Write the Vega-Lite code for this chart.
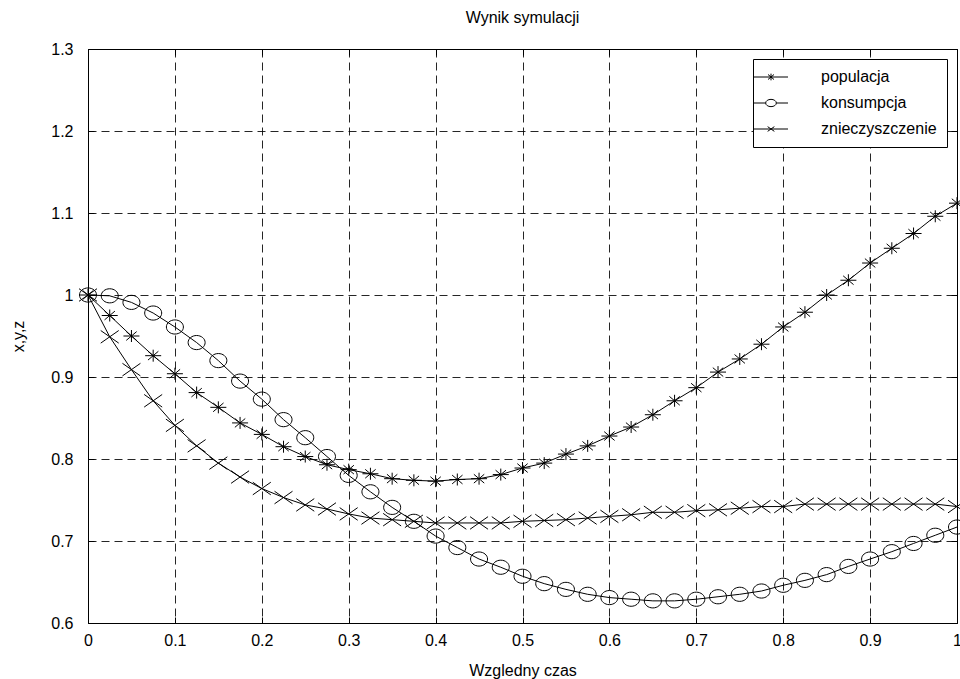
{
  "$schema": "https://vega.github.io/schema/vega-lite/v6.json",
  "width": 869,
  "height": 574,
  "autosize": "none",
  "padding": {"left": 88, "top": 49, "right": 3, "bottom": 56},
  "background": "white",
  "title": {"text": "Wynik symulacji", "font": "Liberation Sans", "fontSize": 16, "fontWeight": "normal", "color": "black", "frame": "group", "offset": 15, "anchor": "middle"},
  "config": {
    "view": {"stroke": "black", "strokeWidth": 1},
    "axis": {"domain": false, "labelFont": "Liberation Sans", "labelFontSize": 16, "labelColor": "black", "titleFont": "Liberation Sans", "titleFontSize": 16, "titleFontWeight": "normal", "titleColor": "black", "tickColor": "black", "tickSize": -6, "gridColor": "black", "gridDash": [8, 5], "gridOpacity": 0.85}
  },
  "data": {"values": [
    {"t": 0, "populacja": 1.0, "konsumpcja": 1.0, "znieczyszczenie": 1.0},
    {"t": 0.025, "populacja": 0.975, "konsumpcja": 0.999, "znieczyszczenie": 0.949},
    {"t": 0.05, "populacja": 0.950, "konsumpcja": 0.991, "znieczyszczenie": 0.909},
    {"t": 0.075, "populacja": 0.926, "konsumpcja": 0.978, "znieczyszczenie": 0.871},
    {"t": 0.1, "populacja": 0.904, "konsumpcja": 0.961, "znieczyszczenie": 0.841},
    {"t": 0.125, "populacja": 0.881, "konsumpcja": 0.942, "znieczyszczenie": 0.816},
    {"t": 0.15, "populacja": 0.863, "konsumpcja": 0.920, "znieczyszczenie": 0.795},
    {"t": 0.175, "populacja": 0.844, "konsumpcja": 0.895, "znieczyszczenie": 0.778},
    {"t": 0.2, "populacja": 0.830, "konsumpcja": 0.873, "znieczyszczenie": 0.764},
    {"t": 0.225, "populacja": 0.815, "konsumpcja": 0.848, "znieczyszczenie": 0.753},
    {"t": 0.25, "populacja": 0.803, "konsumpcja": 0.826, "znieczyszczenie": 0.744},
    {"t": 0.275, "populacja": 0.793, "konsumpcja": 0.803, "znieczyszczenie": 0.739},
    {"t": 0.3, "populacja": 0.787, "konsumpcja": 0.780, "znieczyszczenie": 0.733},
    {"t": 0.325, "populacja": 0.782, "konsumpcja": 0.760, "znieczyszczenie": 0.728},
    {"t": 0.35, "populacja": 0.776, "konsumpcja": 0.741, "znieczyszczenie": 0.726},
    {"t": 0.375, "populacja": 0.774, "konsumpcja": 0.724, "znieczyszczenie": 0.724},
    {"t": 0.4, "populacja": 0.773, "konsumpcja": 0.706, "znieczyszczenie": 0.722},
    {"t": 0.425, "populacja": 0.775, "konsumpcja": 0.692, "znieczyszczenie": 0.722},
    {"t": 0.45, "populacja": 0.776, "konsumpcja": 0.678, "znieczyszczenie": 0.722},
    {"t": 0.475, "populacja": 0.781, "konsumpcja": 0.668, "znieczyszczenie": 0.722},
    {"t": 0.5, "populacja": 0.789, "konsumpcja": 0.657, "znieczyszczenie": 0.724},
    {"t": 0.525, "populacja": 0.795, "konsumpcja": 0.648, "znieczyszczenie": 0.725},
    {"t": 0.55, "populacja": 0.806, "konsumpcja": 0.641, "znieczyszczenie": 0.726},
    {"t": 0.575, "populacja": 0.816, "konsumpcja": 0.635, "znieczyszczenie": 0.728},
    {"t": 0.6, "populacja": 0.828, "konsumpcja": 0.631, "znieczyszczenie": 0.730},
    {"t": 0.625, "populacja": 0.839, "konsumpcja": 0.629, "znieczyszczenie": 0.732},
    {"t": 0.65, "populacja": 0.854, "konsumpcja": 0.627, "znieczyszczenie": 0.735},
    {"t": 0.675, "populacja": 0.871, "konsumpcja": 0.627, "znieczyszczenie": 0.735},
    {"t": 0.7, "populacja": 0.887, "konsumpcja": 0.629, "znieczyszczenie": 0.737},
    {"t": 0.725, "populacja": 0.906, "konsumpcja": 0.632, "znieczyszczenie": 0.738},
    {"t": 0.75, "populacja": 0.922, "konsumpcja": 0.635, "znieczyszczenie": 0.740},
    {"t": 0.775, "populacja": 0.940, "konsumpcja": 0.639, "znieczyszczenie": 0.742},
    {"t": 0.8, "populacja": 0.961, "konsumpcja": 0.646, "znieczyszczenie": 0.742},
    {"t": 0.825, "populacja": 0.979, "konsumpcja": 0.652, "znieczyszczenie": 0.745},
    {"t": 0.85, "populacja": 1.000, "konsumpcja": 0.659, "znieczyszczenie": 0.745},
    {"t": 0.875, "populacja": 1.018, "konsumpcja": 0.669, "znieczyszczenie": 0.745},
    {"t": 0.9, "populacja": 1.039, "konsumpcja": 0.678, "znieczyszczenie": 0.745},
    {"t": 0.925, "populacja": 1.057, "konsumpcja": 0.687, "znieczyszczenie": 0.745},
    {"t": 0.95, "populacja": 1.075, "konsumpcja": 0.697, "znieczyszczenie": 0.745},
    {"t": 0.975, "populacja": 1.096, "konsumpcja": 0.707, "znieczyszczenie": 0.745},
    {"t": 1.0, "populacja": 1.112, "konsumpcja": 0.717, "znieczyszczenie": 0.742}
  ]},
  "transform": [{"fold": ["populacja", "konsumpcja", "znieczyszczenie"], "as": ["s", "v"]}],
  "layer": [
    {
      "mark": {"type": "line", "color": "black", "strokeWidth": 1},
      "encoding": {
        "x": {"field": "t", "type": "quantitative", "scale": {"domain": [0, 1], "nice": false, "zero": false},
              "axis": {"orient": "bottom", "values": [0, 0.1, 0.2, 0.3, 0.4, 0.5, 0.6, 0.7, 0.8, 0.9, 1], "format": "~g", "title": "Wzgledny czas", "labelPadding": 15, "titlePadding": 14, "labelFlush": false}},
        "y": {"field": "v", "type": "quantitative", "scale": {"domain": [0.6, 1.3], "nice": false, "zero": false},
              "axis": {"orient": "left", "values": [0.6, 0.7, 0.8, 0.9, 1, 1.1, 1.2, 1.3], "format": "~g", "title": "x,y,z", "labelPadding": 21, "titlePadding": 24}},
        "detail": {"field": "s"}
      }
    },
    {
      "mark": {"type": "point", "filled": false, "stroke": "black", "strokeWidth": 1, "opacity": 1},
      "encoding": {
        "x": {"field": "t", "type": "quantitative", "axis": {"orient": "top", "values": [0, 0.1, 0.2, 0.3, 0.4, 0.5, 0.6, 0.7, 0.8, 0.9, 1], "labels": false, "grid": false, "title": null}},
        "y": {"field": "v", "type": "quantitative", "axis": {"orient": "right", "values": [0.6, 0.7, 0.8, 0.9, 1, 1.1, 1.2, 1.3], "labels": false, "grid": false, "title": null}},
        "shape": {"field": "s", "type": "nominal", "legend": null,
                  "scale": {"domain": ["populacja", "konsumpcja", "znieczyszczenie"],
                            "range": ["M-1,0H1M0,-0.75V0.75M-0.65,-0.55L0.65,0.55M-0.65,0.55L0.65,-0.55", "M-1,0A1,0.83 0 1,1 1,0A1,0.83 0 1,1 -1,0Z", "M-1,-0.7L1,0.7M-1,0.7L1,-0.7"]}},
        "size": {"field": "s", "type": "nominal", "legend": null,
                 "scale": {"domain": ["populacja", "konsumpcja", "znieczyszczenie"], "range": [256, 324, 90]}}
      }
    },
    {
      "mark": {"type": "point", "filled": false, "stroke": "black", "strokeWidth": 1, "opacity": 0, "size": 225},
      "encoding": {
        "x": {"field": "t", "type": "quantitative", "axis": null},
        "y": {"field": "v", "type": "quantitative", "axis": null},
        "shape": {"field": "s", "type": "nominal",
                  "scale": {"domain": ["populacja", "konsumpcja", "znieczyszczenie"],
                            "range": ["M-3.4,0H3.4M0,-0.67V0.67M-0.6,-0.5L0.6,0.5M-0.6,0.5L0.6,-0.5", "M-3.4,0H-1.07A1.07,0.73 0 1,1 1.07,0A1.07,0.73 0 1,1 -1.07,0M1.07,0H3.4", "M-3.4,0H3.4M-0.67,-0.47L0.67,0.47M-0.67,0.47L0.67,-0.47"]},
                  "legend": {"title": null, "orient": "top-right", "offset": 10, "strokeColor": "black", "fillColor": "white", "padding": 10,
                             "symbolOpacity": 1, "symbolStrokeColor": "black", "symbolStrokeWidth": 1, "symbolFillColor": "transparent",
                             "labelFont": "Liberation Sans", "labelFontSize": 16, "labelColor": "black", "labelOffset": 42, "rowPadding": 10}}
      }
    }
  ],
  "resolve": {"axis": {"x": "independent", "y": "independent"}, "scale": {"shape": "independent", "size": "independent"}}
}
